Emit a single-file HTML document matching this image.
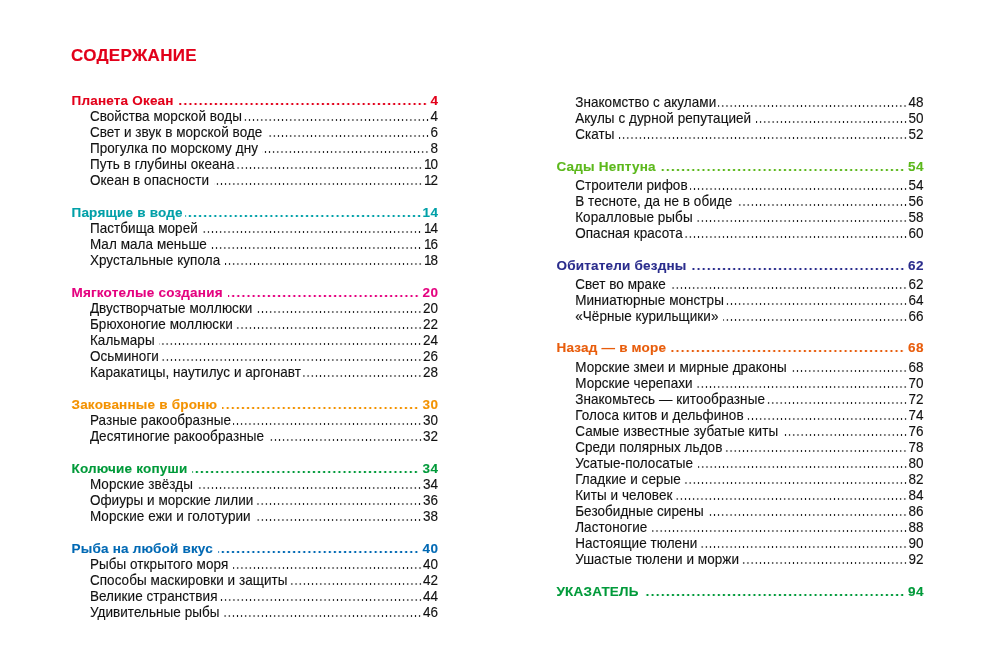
<!DOCTYPE html>
<html><head><meta charset="utf-8"><style>
html,body{margin:0;padding:0;background:#fff}
body{width:1000px;height:665px;position:relative;overflow:hidden;font-family:"Liberation Sans",sans-serif;color:#111;-webkit-font-smoothing:antialiased}
.wrap{position:absolute;left:0;top:0;width:1000px;height:665px;will-change:transform}
.r{-webkit-text-stroke:0.12px currentColor;position:absolute;height:16px;line-height:16px;white-space:nowrap;font-size:13.5px;letter-spacing:0.06px;display:flex}
.h{font-weight:bold;font-size:13.5px;letter-spacing:0.2px}
.l{flex:1;display:block;height:16px}
.s .l{background-image:linear-gradient(to right,#fff 1.8px,rgba(255,255,255,0) 1.8px),radial-gradient(circle at 50% 50%, #151515 0, #151515 0.7px, rgba(21,21,21,0) 1.0px);background-size:100% 100%,4.15px 4px;background-repeat:no-repeat,repeat-x;background-position:0 0,right 0 bottom 3px;margin-right:1px}
.h .l{background-image:linear-gradient(to right,#fff 2.4px,rgba(255,255,255,0) 2.4px),radial-gradient(circle at 50% 50%, currentColor 0, currentColor 1.1px, transparent 1.45px);background-size:100% 100%,5.1px 4px;background-repeat:no-repeat,repeat-x;background-position:0 0,right 0 bottom 3px;margin-right:3.5px}
.ng .l{margin-right:1px}
.one{padding-left:1px;letter-spacing:-1px}
.t{padding-right:0}
.t.sp{padding-right:2.5px}
.h .t.sp{padding-right:3px}
.n{margin-right:-0.06px}
.s .t,.s .n{transform:scaleY(1.06);transform-origin:0 12px}
.h .n{letter-spacing:0.6px;margin-right:-0.6px}
.title{-webkit-text-stroke:0.15px currentColor;position:absolute;left:71px;top:46px;font-size:17px;font-weight:bold;color:#e2001a;letter-spacing:0.3px;line-height:20px}
</style></head><body>
<div class="wrap"><div class="title">СОДЕРЖАНИЕ</div>
<div class="r h" style="left:71.5px;top:93.0px;width:366.5px;color:#e2001a"><span class="t sp">Планета Океан</span><i class="l"></i><span class="n">4</span></div>
<div class="r s" style="left:89.9px;top:109.0px;width:348.1px"><span class="t">Свойства морской воды</span><i class="l"></i><span class="n">4</span></div>
<div class="r s" style="left:89.9px;top:125.0px;width:348.1px"><span class="t sp">Свет и звук в морской воде</span><i class="l"></i><span class="n">6</span></div>
<div class="r s" style="left:89.9px;top:141.0px;width:348.1px"><span class="t sp">Прогулка по морскому дну</span><i class="l"></i><span class="n">8</span></div>
<div class="r s" style="left:89.9px;top:157.0px;width:348.1px"><span class="t">Путь в глубины океана</span><i class="l"></i><span class="n"><span class="one">1</span>0</span></div>
<div class="r s" style="left:89.9px;top:173.0px;width:348.1px"><span class="t sp">Океан в опасности</span><i class="l"></i><span class="n"><span class="one">1</span>2</span></div>
<div class="r h ng" style="left:71.5px;top:205.0px;width:366.5px;color:#00a0a8"><span class="t">Парящие в воде</span><i class="l"></i><span class="n">14</span></div>
<div class="r s" style="left:89.9px;top:221.0px;width:348.1px"><span class="t sp">Пастбища морей</span><i class="l"></i><span class="n"><span class="one">1</span>4</span></div>
<div class="r s" style="left:89.9px;top:237.0px;width:348.1px"><span class="t sp">Мал мала меньше</span><i class="l"></i><span class="n"><span class="one">1</span>6</span></div>
<div class="r s" style="left:89.9px;top:253.0px;width:348.1px"><span class="t sp">Хрустальные купола</span><i class="l"></i><span class="n"><span class="one">1</span>8</span></div>
<div class="r h" style="left:71.5px;top:285.0px;width:366.5px;color:#e4007f"><span class="t sp">Мягкотелые создания</span><i class="l"></i><span class="n">20</span></div>
<div class="r s" style="left:89.9px;top:301.0px;width:348.1px"><span class="t sp">Двустворчатые моллюски</span><i class="l"></i><span class="n">20</span></div>
<div class="r s" style="left:89.9px;top:317.0px;width:348.1px"><span class="t">Брюхоногие моллюски</span><i class="l"></i><span class="n">22</span></div>
<div class="r s" style="left:89.9px;top:333.0px;width:348.1px"><span class="t sp">Кальмары</span><i class="l"></i><span class="n">24</span></div>
<div class="r s" style="left:89.9px;top:349.0px;width:348.1px"><span class="t">Осьминоги</span><i class="l"></i><span class="n">26</span></div>
<div class="r s" style="left:89.9px;top:365.0px;width:348.1px"><span class="t">Каракатицы, наутилус и аргонавт</span><i class="l"></i><span class="n">28</span></div>
<div class="r h" style="left:71.5px;top:397.0px;width:366.5px;color:#f39200"><span class="t sp">Закованные в броню</span><i class="l"></i><span class="n">30</span></div>
<div class="r s" style="left:89.9px;top:413.0px;width:348.1px"><span class="t">Разные ракообразные</span><i class="l"></i><span class="n">30</span></div>
<div class="r s" style="left:89.9px;top:429.0px;width:348.1px"><span class="t sp">Десятиногие ракообразные</span><i class="l"></i><span class="n">32</span></div>
<div class="r h" style="left:71.5px;top:461.0px;width:366.5px;color:#009a3a"><span class="t sp">Колючие копуши</span><i class="l"></i><span class="n">34</span></div>
<div class="r s" style="left:89.9px;top:477.0px;width:348.1px"><span class="t sp">Морские звёзды</span><i class="l"></i><span class="n">34</span></div>
<div class="r s" style="left:89.9px;top:493.0px;width:348.1px"><span class="t">Офиуры и морские лилии</span><i class="l"></i><span class="n">36</span></div>
<div class="r s" style="left:89.9px;top:509.0px;width:348.1px"><span class="t sp">Морские ежи и голотурии</span><i class="l"></i><span class="n">38</span></div>
<div class="r h" style="left:71.5px;top:541.0px;width:366.5px;color:#0069b4"><span class="t sp">Рыба на любой вкус</span><i class="l"></i><span class="n">40</span></div>
<div class="r s" style="left:89.9px;top:557.0px;width:348.1px"><span class="t sp">Рыбы открытого моря</span><i class="l"></i><span class="n">40</span></div>
<div class="r s" style="left:89.9px;top:573.0px;width:348.1px"><span class="t">Способы маскировки и защиты</span><i class="l"></i><span class="n">42</span></div>
<div class="r s" style="left:89.9px;top:589.0px;width:348.1px"><span class="t">Великие странствия</span><i class="l"></i><span class="n">44</span></div>
<div class="r s" style="left:89.9px;top:605.0px;width:348.1px"><span class="t sp">Удивительные рыбы</span><i class="l"></i><span class="n">46</span></div>
<div class="r s" style="left:575.2px;top:95.0px;width:348.3px"><span class="t">Знакомство с акулами</span><i class="l"></i><span class="n">48</span></div>
<div class="r s" style="left:575.2px;top:111.0px;width:348.3px"><span class="t sp">Акулы с дурной репутацией</span><i class="l"></i><span class="n">50</span></div>
<div class="r s" style="left:575.2px;top:127.0px;width:348.3px"><span class="t sp">Скаты</span><i class="l"></i><span class="n">52</span></div>
<div class="r h" style="left:556.5px;top:159.0px;width:367.0px;color:#5cb81c"><span class="t sp">Сады Нептуна</span><i class="l"></i><span class="n">54</span></div>
<div class="r s" style="left:575.2px;top:178.0px;width:348.3px"><span class="t">Строители рифов</span><i class="l"></i><span class="n">54</span></div>
<div class="r s" style="left:575.2px;top:194.0px;width:348.3px"><span class="t sp">В тесноте, да не в обиде</span><i class="l"></i><span class="n">56</span></div>
<div class="r s" style="left:575.2px;top:210.0px;width:348.3px"><span class="t sp">Коралловые рыбы</span><i class="l"></i><span class="n">58</span></div>
<div class="r s" style="left:575.2px;top:226.0px;width:348.3px"><span class="t">Опасная красота</span><i class="l"></i><span class="n">60</span></div>
<div class="r h" style="left:556.5px;top:258.0px;width:367.0px;color:#2a2c8c"><span class="t sp">Обитатели бездны</span><i class="l"></i><span class="n">62</span></div>
<div class="r s" style="left:575.2px;top:277.0px;width:348.3px"><span class="t sp">Свет во мраке</span><i class="l"></i><span class="n">62</span></div>
<div class="r s" style="left:575.2px;top:293.0px;width:348.3px"><span class="t">Миниатюрные монстры</span><i class="l"></i><span class="n">64</span></div>
<div class="r s" style="left:575.2px;top:309.0px;width:348.3px"><span class="t sp">«Чёрные курильщики»</span><i class="l"></i><span class="n">66</span></div>
<div class="r h" style="left:556.5px;top:340.0px;width:367.0px;color:#e85d0c"><span class="t sp">Назад — в море</span><i class="l"></i><span class="n">68</span></div>
<div class="r s" style="left:575.2px;top:360.0px;width:348.3px"><span class="t sp">Морские змеи и мирные драконы</span><i class="l"></i><span class="n">68</span></div>
<div class="r s" style="left:575.2px;top:376.0px;width:348.3px"><span class="t sp">Морские черепахи</span><i class="l"></i><span class="n">70</span></div>
<div class="r s" style="left:575.2px;top:392.0px;width:348.3px"><span class="t">Знакомьтесь — китообразные</span><i class="l"></i><span class="n">72</span></div>
<div class="r s" style="left:575.2px;top:408.0px;width:348.3px"><span class="t">Голоса китов и дельфинов</span><i class="l"></i><span class="n">74</span></div>
<div class="r s" style="left:575.2px;top:424.0px;width:348.3px"><span class="t sp">Самые известные зубатые киты</span><i class="l"></i><span class="n">76</span></div>
<div class="r s" style="left:575.2px;top:440.0px;width:348.3px"><span class="t">Среди полярных льдов</span><i class="l"></i><span class="n">78</span></div>
<div class="r s" style="left:575.2px;top:456.0px;width:348.3px"><span class="t sp">Усатые-полосатые</span><i class="l"></i><span class="n">80</span></div>
<div class="r s" style="left:575.2px;top:472.0px;width:348.3px"><span class="t">Гладкие и серые</span><i class="l"></i><span class="n">82</span></div>
<div class="r s" style="left:575.2px;top:488.0px;width:348.3px"><span class="t">Киты и человек</span><i class="l"></i><span class="n">84</span></div>
<div class="r s" style="left:575.2px;top:504.0px;width:348.3px"><span class="t sp">Безобидные сирены</span><i class="l"></i><span class="n">86</span></div>
<div class="r s" style="left:575.2px;top:520.0px;width:348.3px"><span class="t sp">Ластоногие</span><i class="l"></i><span class="n">88</span></div>
<div class="r s" style="left:575.2px;top:536.0px;width:348.3px"><span class="t">Настоящие тюлени</span><i class="l"></i><span class="n">90</span></div>
<div class="r s" style="left:575.2px;top:552.0px;width:348.3px"><span class="t">Ушастые тюлени и моржи</span><i class="l"></i><span class="n">92</span></div>
<div class="r h" style="left:556.5px;top:584.0px;width:367.0px;color:#009a3a"><span class="t sp">УКАЗАТЕЛЬ</span><i class="l"></i><span class="n">94</span></div></div>
</body></html>
